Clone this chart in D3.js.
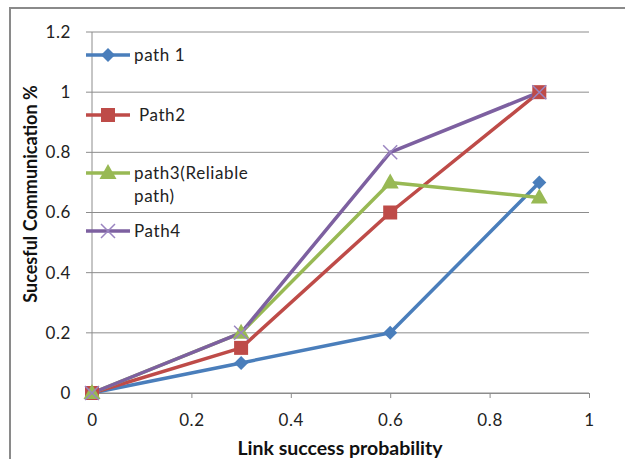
<!DOCTYPE html>
<html><head><meta charset="utf-8">
<script src="https://cdn.jsdelivr.net/npm/d3@7"></script>
<style>body{margin:0;background:#fff;}svg{display:block;font-family:Lato, "Open Sans", sans-serif;}</style>
</head><body>
<svg id="c" width="625" height="459"></svg>
<script>
const xValues = [0, 0.3, 0.6, 0.9];
const seriesNames = ["path 1", " Path2", "path3(Reliable\npath)", "Path4"];
const path1 = [0, 0.1, 0.2, 0.7];
const path2 = [0, 0.15, 0.6, 1];
const path3 = [0, 0.2, 0.7, 0.65];
const path4 = [0, 0.2, 0.8, 1];
const xTicks = [0, 0.2, 0.4, 0.6, 0.8, 1];
const yTicks = [0, 0.2, 0.4, 0.6, 0.8, 1, 1.2];
const colors = ["#4A7EBB", "#BE4B48", "#98B954", "#7D60A0"];

const series = [path1, path2, path3, path4];
const svg = d3.select("#c");
svg.append("path").attr("d","M10,459 L10,8 L625,8").attr("fill","none").attr("stroke","#8a8a8a").attr("stroke-width",2);

const x = d3.scaleLinear().domain([0,1]).range([92,589]);
const y = d3.scaleLinear().domain([0,1.2]).range([393,32]);
const fmt = d=>d===0?"0":d===1?"1":d3.format(".1f")(d);

svg.append("g").selectAll("line").data(yTicks).join("line")
  .attr("x1",86).attr("x2",589).attr("y1",d=>y(d)).attr("y2",d=>y(d))
  .attr("stroke","#8c8c8c").attr("stroke-width",1);
svg.append("line").attr("x1",92).attr("x2",92).attr("y1",y(1.2)).attr("y2",y(0)).attr("stroke","#8c8c8c");
const xa = svg.append("g").attr("transform",`translate(0,${y(0)})`)
  .call(d3.axisBottom(x).tickValues(xTicks).tickSize(5).tickPadding(16).tickFormat(fmt));
xa.select(".domain").attr("stroke","#8c8c8c");
xa.selectAll(".tick line").attr("stroke","#8c8c8c");
xa.selectAll("text").attr("font-size",17).attr("letter-spacing",0.6).attr("fill","#222").attr("font-family","Lato, sans-serif");
const ya = svg.append("g").attr("transform","translate(92,0)")
  .call(d3.axisLeft(y).tickValues(yTicks).tickSize(0).tickPadding(21).tickFormat(fmt));
ya.select(".domain").remove();
ya.selectAll("text").attr("font-size",17).attr("letter-spacing",0.6).attr("fill","#222").attr("font-family","Lato, sans-serif");

const line = d3.line().x((d,i)=>x(xValues[i])).y(d=>y(d));
series.forEach((s,k)=>{
  svg.append("path").datum(s).attr("d",line).attr("fill","none").attr("stroke",colors[k]).attr("stroke-width",3.5).attr("stroke-linejoin","round");
});
function marker(g,k,cx,cy){
  if(k===3){
    g.append("path").attr("d",`M${cx-7},${cy-7}L${cx+7},${cy+7}M${cx-7},${cy+7}L${cx+7},${cy-7}`).attr("stroke","#9a84c0").attr("stroke-width",1.5);
  } else if(k===0){
    g.append("path").attr("d",`M${cx},${cy-7}L${cx+7},${cy}L${cx},${cy+7}L${cx-7},${cy}Z`).attr("fill",colors[k]);
  } else if(k===1){
    g.append("rect").attr("x",cx-7).attr("y",cy-7).attr("width",14).attr("height",14).attr("fill",colors[k]);
  } else {
    g.append("path").attr("d",`M${cx},${cy-9}L${cx+8.5},${cy+6}L${cx-8.5},${cy+6}Z`).attr("fill",colors[k]);
  }
}
series.forEach((s,k)=>{
  const g = svg.append("g");
  s.forEach((v,i)=>marker(g,k,x(xValues[i]),y(v)));
});

const legY = [55, 115, 173, 231];
seriesNames.forEach((n,k)=>{
  const g = svg.append("g");
  g.append("line").attr("x1",86).attr("x2",130).attr("y1",legY[k]).attr("y2",legY[k]).attr("stroke",colors[k]).attr("stroke-width",3.5);
  marker(g,k,108,legY[k]);
  n.split("\n").forEach((t,j)=>{
    g.append("text").attr("x",134).attr("y",legY[k]+j*23).attr("dy","0.35em").attr("font-size",17).attr("letter-spacing",0.6).attr("fill","#222").attr("xml:space","preserve").text(t);
  });
});
svg.append("text").attr("x",340).attr("y",448).attr("dy","0.35em").attr("text-anchor","middle").attr("font-weight","bold").attr("font-size",19.5).attr("fill","#111").text("Link success probability");
svg.append("text").attr("transform","translate(31,194) rotate(-90)").attr("dy","0.35em").attr("text-anchor","middle").attr("font-weight","bold").attr("font-size",18).attr("fill","#111").text("Sucesful Communication %");
</script>
</body></html>
